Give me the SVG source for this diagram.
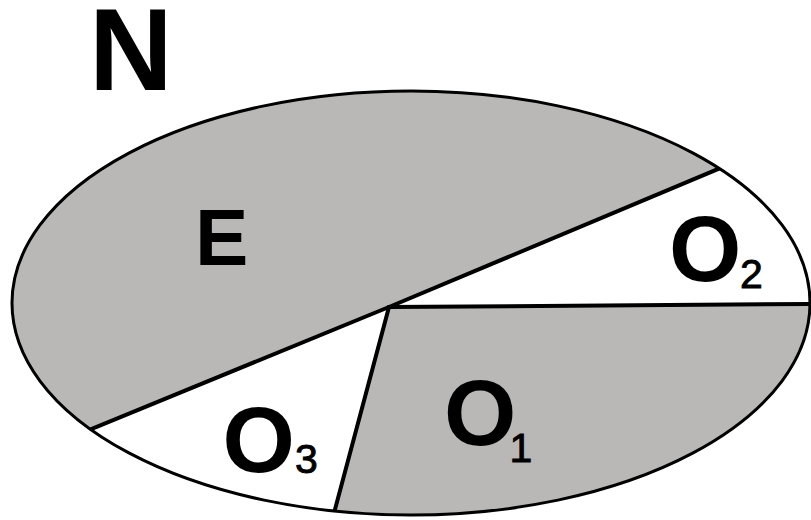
<svg xmlns="http://www.w3.org/2000/svg" width="811" height="520" viewBox="0 0 811 520">
  <style>
    .big { font-family: "Liberation Sans", Arial, sans-serif; font-weight: bold; fill: #000; }
    .sub { font-family: "Liberation Sans", Arial, sans-serif; font-weight: normal; fill: #000; stroke: #000; stroke-width: 0.9; font-size: 41px; }
    .div { fill: none; stroke: #000; stroke-width: 4; stroke-linejoin: miter; }
    .gray { fill: #b9b8b6; }
  </style>
  <defs>
    <clipPath id="ell">
      <ellipse cx="411" cy="303" rx="399" ry="212"/>
    </clipPath>
  </defs>
  <rect width="811" height="520" fill="#fff"/>
  <g id="regions" clip-path="url(#ell)">
    <rect x="0" y="0" width="811" height="520" fill="#fff"/>
    <polygon id="region-E" class="gray" points="-50,487 389,307 850,113.7 850,-50 -50,-50"/>
    <polygon id="region-O1" class="gray" points="389,307 850,303.7 850,560 321.5,560"/>
  </g>
  <g id="connectors" clip-path="url(#ell)">
    <polyline class="div" points="-50,487 389,307 850,113.7"/>
    <polyline class="div" points="850,303.7 389,307 321.5,560"/>
  </g>
  <ellipse id="outline" cx="411" cy="303" rx="399" ry="212" fill="none" stroke="#000" stroke-width="3"/>
  <g id="label-N"><text class="big" x="89" y="90" font-size="116">N</text></g>
  <g id="label-E"><text class="big" x="195" y="265" font-size="80">E</text></g>
  <g id="label-O2"><text class="big" x="669" y="281" font-size="93">O</text><text class="sub" x="740" y="288">2</text></g>
  <g id="label-O3"><text class="big" x="222.5" y="471.5" font-size="93">O</text><text class="sub" x="295" y="472.5">3</text></g>
  <g id="label-O1"><text class="big" x="444" y="445" font-size="93">O</text><text class="sub" x="509.5" y="462">1</text></g>
</svg>
